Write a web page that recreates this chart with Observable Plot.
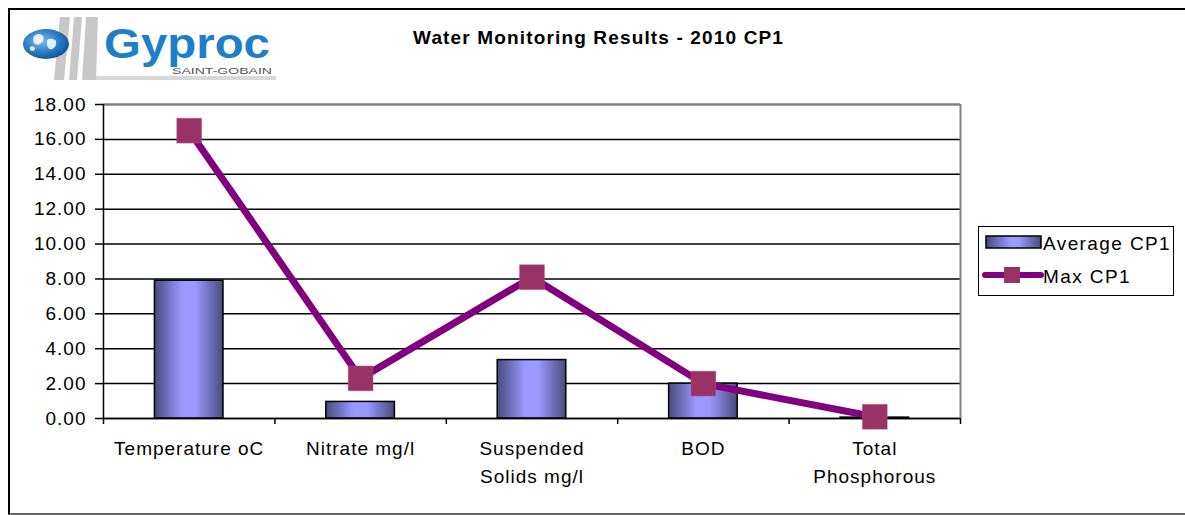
<!DOCTYPE html>
<html>
<head>
<meta charset="utf-8">
<script src="https://cdn.jsdelivr.net/npm/d3@7"></script>
<script src="https://cdn.jsdelivr.net/npm/@observablehq/plot@0.6"></script>
<style>
  html, body { margin: 0; padding: 0; background: #fff; }
  #wrap { position: relative; width: 1185px; height: 515px; overflow: hidden; font-family: "Liberation Sans", Arial, sans-serif; }
  #border { position: absolute; left: 8px; top: 8px; width: 1190px; height: 503px; border-left: 2px solid #000; border-top: 2px solid #000; border-bottom: 2px solid #666; z-index: 5; pointer-events: none; }
  #title { position: absolute; left: 413px; top: 27px; font-size: 19px; font-weight: bold; letter-spacing: 1.15px; color: #000; white-space: nowrap; z-index: 3; }
  #chart { position: absolute; left: 0; top: 0; z-index: 2; }
  #logo { position: absolute; left: 0; top: 0; z-index: 3; }
  #legend { position: absolute; left: 977px; top: 225px; z-index: 3; }
</style>
</head>
<body>
<div id="wrap">
  <div id="chart"></div>
  <svg id="logo" width="300" height="95">
    <defs>
      <radialGradient id="globeGrad" cx="0.4" cy="0.4" r="0.7">
        <stop offset="0" stop-color="#7fbde8"/>
        <stop offset="0.55" stop-color="#2a7cc4"/>
        <stop offset="1" stop-color="#0c4a8c"/>
      </radialGradient>
    </defs>
    <g fill="#c8c8c8">
      <polygon points="60,17 70,17 64,80 54,80"/>
      <polygon points="74,17 82,17 77,80 69,80"/>
      <polygon points="86,17 98,17 96,80 82,80"/>
    </g>
    <rect x="96" y="76" width="180" height="4" fill="#d8d8d8"/>
    <ellipse cx="46" cy="44" rx="23" ry="15" fill="url(#globeGrad)"/>
    <g fill="#ffffff" opacity="0.85">
      <path d="M34,36 q5,-4 9,0 q2,4 -2,7 q-3,3 -6,1 q-3,-3 -1,-8z"/>
      <path d="M47,40 q5,-3 9,1 q1,6 -4,8 q-4,1 -5,-4z"/>
      <path d="M30,47 q3,-2 5,1 q0,3 -3,3 q-3,-1 -2,-4z"/>
    </g>
    <text x="104" y="58" font-family="Liberation Sans, Arial, sans-serif" font-weight="bold" font-size="42" fill="#1f7ec8" textLength="166" lengthAdjust="spacingAndGlyphs">Gyproc</text>
    <text x="172" y="74" font-family="Liberation Sans, Arial, sans-serif" font-size="9" fill="#555" textLength="100" lengthAdjust="spacingAndGlyphs">SAINT-GOBAIN</text>
  </svg>
  <div id="title">Water Monitoring Results - 2010 CP1</div>
  <svg id="legend" width="200" height="75">
    <defs>
      <linearGradient id="legGrad" x1="0" x2="1" y1="0" y2="0">
        <stop offset="0" stop-color="#4a4a7e"/>
        <stop offset="0.45" stop-color="#9999ff"/>
        <stop offset="0.6" stop-color="#9999ff"/>
        <stop offset="1" stop-color="#4a4a7e"/>
      </linearGradient>
    </defs>
    <rect x="1.5" y="1.5" width="195" height="69" fill="#fff" stroke="#000" stroke-width="1"/>
    <rect x="9" y="11" width="55" height="12" fill="url(#legGrad)" stroke="#000" stroke-width="1.5"/>
    <text x="66" y="25" font-family="Liberation Sans, Arial, sans-serif" font-size="19" letter-spacing="1.4">Average CP1</text>
    <line x1="8" y1="50" x2="64" y2="50" stroke="#800080" stroke-width="6" stroke-linecap="round"/>
    <rect x="27" y="42" width="16" height="16" fill="#993366"/>
    <text x="66" y="58" font-family="Liberation Sans, Arial, sans-serif" font-size="19" letter-spacing="1.4">Max CP1</text>
  </svg>
  <div id="border"></div>
</div>
<script>
// ---- data ----
const categories = ["Temperature oC", "Nitrate mg/l", "Suspended\nSolids mg/l", "BOD", "Total\nPhosphorous"];
const averageCP1 = [7.9, 0.95, 3.35, 2.0, 0.05];
const maxCP1 = [16.5, 2.3, 8.1, 2.0, 0.1];
const yTicks = [0, 2, 4, 6, 8, 10, 12, 14, 16, 18];

const rows = categories.map((c, i) => ({i, cat: c, avg: averageCP1[i], max: maxCP1[i]}));
const boundaries = d3.range(categories.length + 1);
const centers = categories.map((c, i) => i + 0.5);

const gradientDefs = () => {
  const g = document.createElementNS("http://www.w3.org/2000/svg", "g");
  g.innerHTML = `<defs><linearGradient id="barGrad" x1="0" x2="1" y1="0" y2="0">
    <stop offset="0" stop-color="#4a4a7e"/>
    <stop offset="0.4" stop-color="#9999ff"/>
    <stop offset="0.6" stop-color="#9999ff"/>
    <stop offset="1" stop-color="#4a4a7e"/>
  </linearGradient></defs>`;
  return g;
};

const chart = Plot.plot({
  width: 1185,
  height: 515,
  marginTop: 104,
  marginBottom: 97,
  marginLeft: 103,
  marginRight: 225,
  style: {background: "transparent", fontFamily: "Liberation Sans, Arial, sans-serif", fontSize: "19px", color: "#000", letterSpacing: "1px"},
  x: {domain: [0, categories.length], axis: null},
  y: {domain: [0, 18], axis: null},
  marks: [
    gradientDefs,
    Plot.gridY(yTicks, {stroke: "#000", strokeOpacity: 1, strokeWidth: 1.5}),
    Plot.ruleY([18], {stroke: "#808080", strokeWidth: 2}),
    Plot.ruleX([categories.length], {stroke: "#808080", strokeWidth: 2}),
    Plot.rectY(rows, {x1: d => d.i + 0.3, x2: d => d.i + 0.7, y1: 0, y2: "avg", fill: "url(#barGrad)", stroke: "#000", strokeWidth: 1.5}),
    Plot.ruleY([0], {stroke: "#000", strokeWidth: 1.5}),
    Plot.ruleX([0], {stroke: "#000", strokeWidth: 1.5}),
    Plot.line(rows, {x: d => d.i + 0.5, y: "max", stroke: "#800080", strokeWidth: 7, strokeLinejoin: "miter"}),
    Plot.dot(rows, {x: d => d.i + 0.5, y: "max", symbol: "square", r: 14, fill: "#993366", stroke: "#b05580", strokeWidth: 0.5}),
    Plot.axisY({ticks: yTicks, tickFormat: d => d.toFixed(2), tickSize: 8, tickPadding: 9, stroke: "#000", strokeWidth: 1.5, fontSize: 19, label: null}),
    Plot.axisX({ticks: boundaries, tickFormat: () => "", tickSize: 6, stroke: "#000", strokeWidth: 1.5, label: null}),
    Plot.axisX({ticks: centers, tickFormat: d => categories[Math.round(d - 0.5)], tickSize: 0, tickPadding: 16, lineHeight: 1.5, fontSize: 19, label: null})
  ]
});
document.getElementById("chart").appendChild(chart);
</script>
</body>
</html>
